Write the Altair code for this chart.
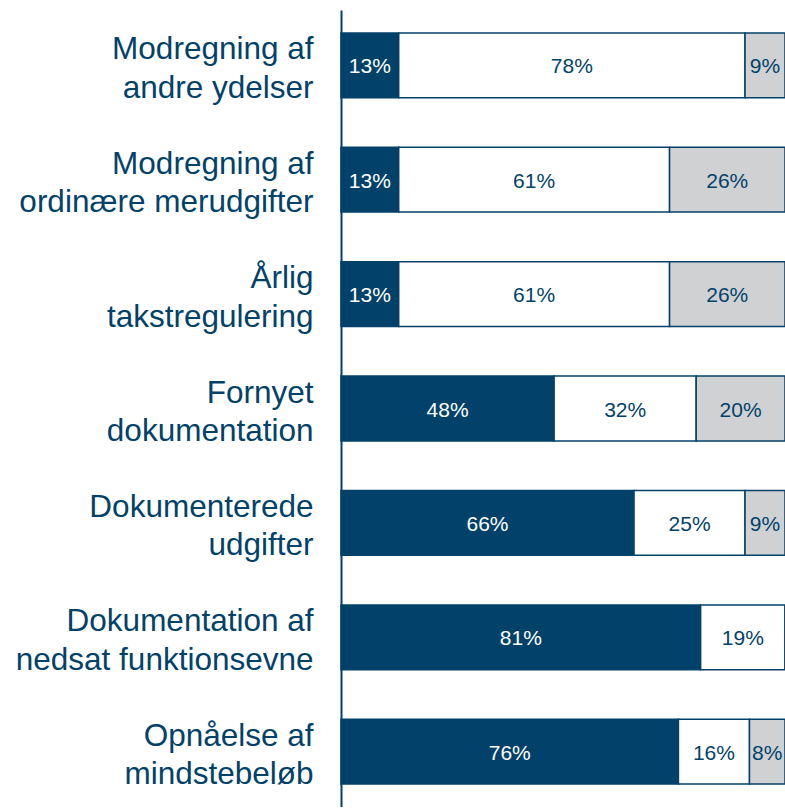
import altair as alt
import pandas as pd

rows = [
    "Modregning af\nandre ydelser",
    "Modregning af\nordinære merudgifter",
    "Årlig\ntakstregulering",
    "Fornyet\ndokumentation",
    "Dokumenterede\nudgifter",
    "Dokumentation af\nnedsat funktionsevne",
    "Opnåelse af\nmindstebeløb",
]
segments = ["Kategori 1", "Kategori 2", "Kategori 3"]
seg1 = [13, 13, 13, 48, 66, 81, 76]
seg2 = [78, 61, 61, 32, 25, 19, 16]
seg3 = [9, 26, 26, 20, 9, 0, 8]

DARK = "#02426A"
GREY = "#D0D1D3"

records = []
for i, r in enumerate(rows):
    for j, (s, vals) in enumerate(zip(segments, [seg1, seg2, seg3])):
        records.append({"row": r, "segment": s, "order": j, "value": vals[i]})
df = pd.DataFrame(records)

base = alt.Chart(df).transform_stack(
    stack="value", groupby=["row"], sort=[{"field": "order"}], as_=["x0", "x1"]
).transform_calculate(mid="(datum.x0 + datum.x1) / 2")

y = alt.Y(
    "row:N",
    sort=rows,
    scale=alt.Scale(paddingInner=0.434, paddingOuter=0.2),
    axis=alt.Axis(
        title=None,
        ticks=False,
        grid=False,
        domain=True,
        domainColor=DARK,
        domainWidth=2,
        labelFont="Liberation Sans",
        labelFontSize=31.5,
        labelLineHeight=38.5,
        labelColor=DARK,
        labelAlign="right",
        labelBaseline="middle",
        labelPadding=28,
        labelOffset=-15,
        labelLimit=0,
        labelExpr="split(datum.label, '\\n')",
    ),
)

xscale = alt.Scale(domain=[0, 100], nice=False, zero=True)

bars = base.mark_bar(stroke=DARK, strokeWidth=1.5).encode(
    y=y,
    x=alt.X("x0:Q", scale=xscale, axis=None),
    x2="x1:Q",
    color=alt.Color(
        "segment:N",
        scale=alt.Scale(domain=segments, range=[DARK, "#FFFFFF", GREY]),
        legend=None,
    ),
)

labels = base.transform_filter("datum.value > 0").mark_text(
    font="Liberation Sans", fontSize=21, baseline="middle", align="center", dy=2
).encode(
    y=alt.Y("row:N", sort=rows),
    x=alt.X("mid:Q", scale=xscale),
    text=alt.Text("label:N"),
    color=alt.Color(
        "segment:N",
        scale=alt.Scale(domain=segments, range=["#FFFFFF", DARK, DARK]),
        legend=None,
    ),
).transform_calculate(label="datum.value + '%'")

chart = (
    alt.layer(bars, labels)
    .resolve_scale(color="independent")
    .properties(
        width=444,
        height=797,
        autosize=alt.AutoSizeParams(type="none"),
        padding={"left": 341, "top": 10, "right": 0, "bottom": 0},
    )
    .configure_view(strokeWidth=0)
)

chart.save("out.html", embed_options={"renderer": "svg", "actions": False})
